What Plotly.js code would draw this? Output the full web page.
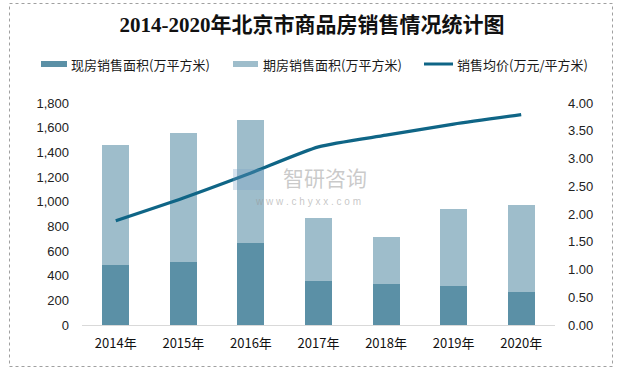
<!DOCTYPE html>
<html>
<head>
<meta charset="utf-8">
<script src="https://cdn.plot.ly/plotly-3.0.1.min.js"></script>
<style>html,body{margin:0;padding:0;background:#fff;}#chart{width:621px;height:371px;}</style>
</head>
<body>
<div id="chart"></div>
<script>
// ---- data ----
const years = ["2014年", "2015年", "2016年", "2017年", "2018年", "2019年", "2020年"];
const spotArea = [487, 511, 666, 357, 333, 317, 268];          // 现房销售面积(万平方米)
const futureArea = [974, 1048, 998, 512, 381, 625, 706];       // 期房销售面积(万平方米)
const avgPrice = [1.88, 2.29, 2.74, 3.21, 3.42, 3.62, 3.79];   // 销售均价(万元/平方米)
const seriesNames = ["现房销售面积(万平方米)", "期房销售面积(万平方米)", "销售均价(万元/平方米)"];
const leftTicks = [0, 200, 400, 600, 800, 1000, 1200, 1400, 1600, 1800];
const rightTicks = [0, 0.5, 1, 1.5, 2, 2.5, 3, 3.5, 4];
const titleText = "2014-2020年北京市商品房销售情况统计图";

// ---- geometry helpers (pixel -> paper) ----
const W = 621, H = 371, L = 82, R = 555, T = 103, B = 325;
const px = x => (x - L) / (R - L);
const py = y => (B - y) / (B - T);

const cDark = "#5b90a6", cLight = "#9ebdcb", cLine = "#0f6586";

const traces = [
  {type: "bar", x: years, y: spotArea, name: seriesNames[0], marker: {color: cDark}, showlegend: false, hoverinfo: "y"},
  {type: "bar", x: years, y: futureArea, name: seriesNames[1], marker: {color: cLight}, showlegend: false, hoverinfo: "y"},
  {type: "scatter", mode: "lines", x: years, y: avgPrice, name: seriesNames[2], yaxis: "y2",
   line: {color: cLine, width: 3.2, shape: "spline", smoothing: 0.6}, showlegend: false}
];

const legendItems = [
  {x0: 41, x1: 67, tx: 69, color: cDark, kind: "bar"},
  {x0: 233, x1: 258, tx: 261, color: cLight, kind: "bar"},
  {x0: 424, x1: 453, tx: 455, color: cLine, kind: "line"}
];
const legendY = 64;

const shapes = [
  // outer border
  {type: "rect", xref: "paper", yref: "paper", x0: px(9.5), x1: px(612.5), y0: py(3.5), y1: py(366.5),
   line: {color: "#a0a0a0", width: 1, dash: "dot"}, fillcolor: "rgba(0,0,0,0)", layer: "below"},
  // watermark logo
  {type: "rect", xref: "paper", yref: "paper", x0: px(233), x1: px(264), y0: py(190), y1: py(169),
   line: {width: 0}, fillcolor: "rgba(120,160,200,0.3)", layer: "above"}
];
const annotations = [
  {text: "智研咨询", xref: "paper", yref: "paper", x: px(325), y: py(177), showarrow: false,
   font: {family: "'Noto Sans CJK SC',sans-serif", size: 21, color: "rgba(150,150,150,0.5)"}, xanchor: "center", yanchor: "middle"},
  {text: "w w w . c h y x x . c o m", xref: "paper", yref: "paper", x: px(308), y: py(201), showarrow: false,
   font: {family: "'Liberation Sans',sans-serif", size: 10, color: "rgba(150,150,150,0.55)"}, xanchor: "center", yanchor: "middle"}
];
legendItems.forEach((it, i) => {
  if (it.kind === "bar") {
    shapes.push({type: "rect", xref: "paper", yref: "paper", x0: px(it.x0), x1: px(it.x1),
      y0: py(legendY + 3), y1: py(legendY - 3), line: {width: 0}, fillcolor: it.color});
  } else {
    shapes.push({type: "line", xref: "paper", yref: "paper", x0: px(it.x0), x1: px(it.x1),
      y0: py(legendY), y1: py(legendY), line: {color: it.color, width: 3}});
  }
  annotations.push({text: seriesNames[i], xref: "paper", yref: "paper", x: px(it.tx), y: py(legendY),
    xanchor: "left", yanchor: "middle", showarrow: false,
    font: {family: "'Noto Sans CJK SC',sans-serif", size: 13, color: "#1a1a1a"}});
});

const layout = {
  width: W, height: H,
  margin: {l: L, r: W - R, t: T, b: H - B, pad: 0},
  paper_bgcolor: "#fff", plot_bgcolor: "#fff",
  barmode: "stack", bargap: 0.6,
  title: {text: "<b>" + titleText + "</b>", x: 312 / W, xanchor: "center", y: 1 - 25 / H, yanchor: "middle",
          xref: "container", yref: "container",
          font: {family: "'Liberation Serif','Noto Sans CJK SC',serif", size: 21, color: "#111"}},
  xaxis: {type: "category", showgrid: false, zeroline: false, showline: true, linecolor: "#d9d9d9", linewidth: 1,
          ticks: "", tickfont: {family: "'Noto Sans CJK SC',sans-serif", size: 13, color: "#111"}, ticklabelstandoff: 6},
  yaxis: {range: [0, 1800], tickvals: leftTicks, ticktext: leftTicks.map(v => v.toLocaleString("en-US")),
          showgrid: false, zeroline: false, showline: false, ticks: "",
          tickfont: {family: "'Liberation Sans',sans-serif", size: 13, color: "#222"}, ticklabelstandoff: 12, fixedrange: true},
  yaxis2: {range: [0, 4], overlaying: "y", side: "right", tickvals: rightTicks, ticktext: rightTicks.map(v => v.toFixed(2)),
           showgrid: false, zeroline: false, showline: false, ticks: "",
           tickfont: {family: "'Liberation Sans',sans-serif", size: 13, color: "#222"}, ticklabelstandoff: 12},
  shapes: shapes,
  annotations: annotations,
  showlegend: false
};

Plotly.newPlot("chart", traces, layout, {displayModeBar: false, staticPlot: true});
</script>
</body>
</html>
